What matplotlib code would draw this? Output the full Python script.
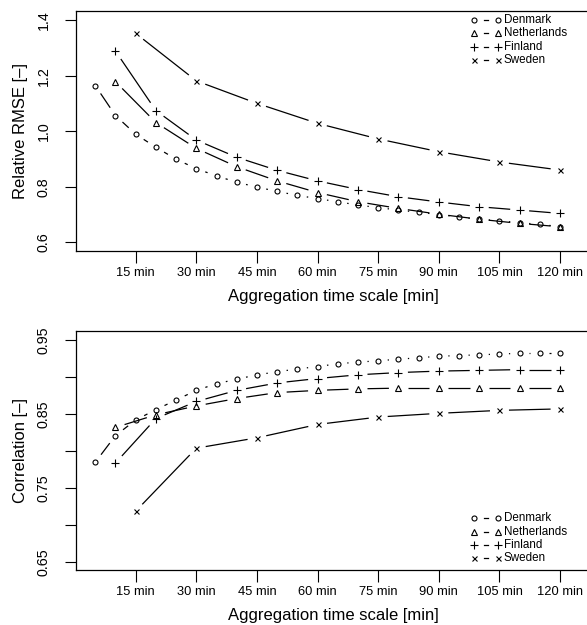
import numpy as np
import matplotlib
matplotlib.use('Agg')
import matplotlib.pyplot as plt

plt.rcParams['font.family'] = ['Liberation Sans', 'DejaVu Sans']

# aggregation time scales [min]
t5 = np.arange(5, 121, 5)
t10 = np.arange(10, 121, 10)
t15 = np.arange(15, 121, 15)

countries = ['Denmark', 'Netherlands', 'Finland', 'Sweden']

# relative RMSE
rmse_dk = [1.164, 1.056, 0.989, 0.942, 0.899, 0.865, 0.839, 0.816, 0.799, 0.783, 0.769, 0.757,
           0.746, 0.734, 0.725, 0.716, 0.708, 0.700, 0.691, 0.683, 0.678, 0.670, 0.665, 0.656]
rmse_nl = [1.178, 1.031, 0.938, 0.872, 0.821, 0.779, 0.746, 0.722, 0.701, 0.683, 0.668, 0.656]
rmse_fi = [1.288, 1.074, 0.968, 0.906, 0.859, 0.821, 0.790, 0.764, 0.745, 0.728, 0.716, 0.704]
rmse_se = [1.352, 1.181, 1.100, 1.028, 0.972, 0.926, 0.889, 0.860]

# correlation
cor_dk = [0.785, 0.821, 0.842, 0.856, 0.869, 0.882, 0.891, 0.897, 0.903, 0.907, 0.911, 0.914,
          0.918, 0.920, 0.922, 0.924, 0.926, 0.928, 0.929, 0.930, 0.931, 0.932, 0.932, 0.932]
cor_nl = [0.832, 0.849, 0.861, 0.871, 0.879, 0.882, 0.884, 0.885, 0.885, 0.885, 0.885, 0.885]
cor_fi = [0.784, 0.844, 0.867, 0.882, 0.892, 0.898, 0.903, 0.906, 0.908, 0.909, 0.910, 0.910]
cor_se = [0.719, 0.804, 0.818, 0.836, 0.846, 0.851, 0.855, 0.857]

xticks = [15, 30, 45, 60, 75, 90, 105, 120]
xticklabels = ['%d min' % v for v in xticks]

markers = {'Denmark': ('o', 3.6), 'Netherlands': ('^', 4.0), 'Finland': ('+', 5.2), 'Sweden': ('x', 3.6)}
GAP = 9.5  # px gap around points, like R type="b"


def plot_b(ax, x, y, name):
    """points with line segments that stop short of each point"""
    m, ms = markers[name]
    ax.plot(x, y, linestyle='none', marker=m, ms=ms, mfc='none', mec='black', mew=0.8, color='black')
    pts = ax.transData.transform(np.column_stack([x, y]))
    inv = ax.transData.inverted()
    for p0, p1 in zip(pts[:-1], pts[1:]):
        d = p1 - p0
        L = np.hypot(*d)
        if L <= 2 * GAP:
            continue
        a = p0 + d / L * GAP
        b = p1 - d / L * GAP
        seg = inv.transform(np.vstack([a, b]))
        ax.plot(seg[:, 0], seg[:, 1], color='black', lw=0.9, solid_capstyle='butt')


def legend_b(ax, ypix_list):
    # manual R-style legend "o - o Label", positions in pixels
    fig = ax.figure
    for name, yp in zip(countries, ypix_list):
        m, ms = markers[name]
        yf = 1 - yp / 625.0
        for xp in (474.3, 497.7):
            fig.lines.append(plt.Line2D([xp / 587.0], [yf], transform=fig.transFigure, marker=m, ms=ms,
                                        mfc='none', mec='black', mew=0.8, linestyle='none'))
        fig.lines.append(plt.Line2D([(486 - 2.2) / 587.0, (486 + 2.2) / 587.0], [yf, yf],
                                    transform=fig.transFigure, color='black', lw=0.9))
        fig.text(504 / 587.0, yf, name, fontsize=8.4, va='center', ha='left')


fig = plt.figure(figsize=(5.87, 6.25), dpi=100)
W, H = 587.0, 625.0
ax1 = fig.add_axes([76 / W, 1 - 250.7 / H, (590 - 76) / W, (250.7 - 11) / H])
ax2 = fig.add_axes([76 / W, 1 - 570 / H, (590 - 76) / W, (570 - 331) / H])

xl = (0.23, 127.4)
ax1.set_xlim(*xl)
ax1.set_ylim(0.5698, 1.4324)
ax2.set_xlim(*xl)
ax2.set_ylim(0.6396, 0.9621)

plot_b(ax1, t5, rmse_dk, 'Denmark')
plot_b(ax1, t10, rmse_nl, 'Netherlands')
plot_b(ax1, t10, rmse_fi, 'Finland')
plot_b(ax1, t15, rmse_se, 'Sweden')

plot_b(ax2, t5, cor_dk, 'Denmark')
plot_b(ax2, t10, cor_nl, 'Netherlands')
plot_b(ax2, t10, cor_fi, 'Finland')
plot_b(ax2, t15, cor_se, 'Sweden')

ax1.set_yticks([0.6, 0.8, 1.0, 1.2, 1.4])
ax1.set_yticklabels(['0.6', '0.8', '1.0', '1.2', '1.4'])
ax2.set_yticks([0.65, 0.70, 0.75, 0.80, 0.85, 0.90, 0.95])
ax2.set_yticklabels(['0.65', '', '0.75', '', '0.85', '', '0.95'])

for ax, lab in ((ax1, 'Relative RMSE [\u2013]'), (ax2, 'Correlation [\u2013]')):
    ax.set_xticks(xticks)
    ax.set_xticklabels(xticklabels, fontsize=9.3)
    for lbl in ax.get_yticklabels():
        lbl.set_rotation(90)
        lbl.set_va('center')
        lbl.set_fontsize(10.3)
    ax.tick_params(axis='x', direction='out', length=8.3, width=0.8, pad=3.5)
    ax.tick_params(axis='y', direction='out', length=8.0, width=0.8, pad=10)
    for s in ax.spines.values():
        s.set_linewidth(0.9)
    ax.set_xlabel('Aggregation time scale [min]', fontsize=12, va='center')
    ax.xaxis.set_label_coords(0.5, -0.189)
    ax.set_ylabel(lab, fontsize=12, va='center')
    ax.yaxis.set_label_coords(-0.108, 0.5)

legend_b(ax1, [20, 33.3, 46.7, 60])
legend_b(ax2, [518.3, 531.7, 545, 558.3])

fig.savefig('out.png', dpi=100)
